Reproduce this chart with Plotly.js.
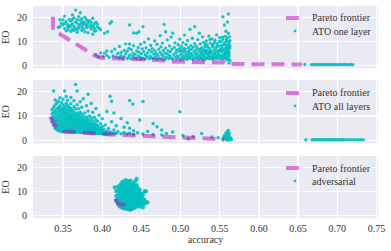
<!DOCTYPE html>
<html><head><meta charset="utf-8">
<script src="https://cdn.plot.ly/plotly-3.0.1.min.js"></script>
<style>html,body{margin:0;padding:0;background:#fff}#chart{width:391px;height:251px}</style>
</head><body><div id="chart"></div>
<script>
// ---------- DATA (accuracy, EO) ----------
// Panel 1: ATO one layer  -> columns of [accuracy, [EO values]]
const atoOneLayer = [
 [0.344,[15.8]],[0.346,[16.2,19.0]],[0.348,[17.5]],[0.350,[16.8,18.9]],[0.352,[20.5,15.3,17.4]],
 [0.354,[18.2,14.4]],[0.356,[14.8,17.0,16.0]],[0.358,[19.1,15.9,16.3]],[0.360,[16.5,18.4,14.2]],
 [0.362,[21.0,17.3,15.0,19.2]],[0.364,[19.8,16.2,14.6]],[0.366,[23.0,18.0,15.5]],[0.368,[14.9,17.6,13.8,19.0]],
 [0.370,[20.3,16.4,15.5]],[0.372,[21.9,18.8,17.1]],[0.374,[14.6,19.4,17.8,16.0]],[0.376,[16.9,15.2,18.1]],
 [0.378,[17.7,14.0,20.0]],[0.380,[16.6,19.0,15.8]],[0.382,[17.4,13.6,18.3]],[0.384,[16.0,18.6]],
 [0.386,[15.1,16.7,17.9]],[0.388,[19.6,13.0,16.3]],[0.390,[17.2,15.5,14.3]],[0.392,[14.4,18.0,4.5]],
 [0.394,[17.2,16.0]],[0.395,[3.5]],[0.396,[15.5]],[0.398,[14.8,5.2]],[0.401,[3.8]],[0.403,[13.4,5.1]],
 [0.406,[4.2,6.0]],[0.407,[14.0]],[0.409,[3.3]],[0.410,[17.5]],[0.412,[18.2,5.8]],[0.414,[4.0]],
 [0.416,[6.8]],[0.418,[3.6]],[0.420,[5.0]],[0.422,[3.2,7.9]],[0.424,[4.1,5.4]],[0.426,[2.8]],
 [0.428,[3.7,6.2]],[0.430,[4.8,9.0]],[0.432,[2.9,5.9]],[0.434,[3.4,7.1]],[0.435,[4.3,8.9,16.8]],
 [0.437,[2.7,6.6]],[0.439,[3.9,5.1]],[0.440,[8.2,13.5]],[0.442,[3.1,4.6]],[0.444,[2.9,6.0,13.4]],
 [0.446,[4.0,7.4]],[0.447,[5.5,14.0]],[0.449,[2.6,3.3,8.8]],[0.450,[4.9]],[0.451,[6.9]],[0.452,[3.0,16.1]],
 [0.453,[5.7]],[0.454,[9.6]],[0.455,[2.7,4.4]],[0.456,[7.3]],[0.457,[3.6]],[0.458,[5.2]],[0.459,[11.0]],
 [0.460,[2.8,6.4]],[0.461,[4.0]],[0.462,[8.3]],[0.463,[3.2,5.6]],[0.464,[7.0]],[0.465,[2.9]],[0.466,[4.7]],
 [0.467,[6.1,10.2]],[0.468,[3.5]],[0.469,[5.0]],[0.470,[2.6,8.8]],[0.471,[4.2]],[0.472,[6.7]],[0.473,[3.1]],
 [0.474,[5.4,12.4]],[0.475,[7.7]],[0.476,[2.7,4.5]],[0.477,[9.3]],[0.478,[3.8,6.2]],[0.479,[17.1]],
 [0.480,[2.5,5.1]],[0.481,[7.2,14.0]],[0.482,[3.4]],[0.483,[4.8,10.6]],[0.484,[6.0]],[0.485,[2.9]],
 [0.486,[4.1,8.1]],[0.487,[5.7]],[0.488,[3.2,11.8]],[0.489,[6.8]],[0.490,[2.6,13.4]],[0.491,[4.6]],
 [0.492,[7.5]],[0.493,[3.6,9.4]],[0.494,[5.3]],[0.495,[2.8,6.5]],[0.496,[4.0]],[0.497,[8.6]],
 [0.498,[3.1,5.9]],[0.499,[7.0,10.9]],[0.500,[2.4,4.4]],[0.501,[6.2,8.0]],[0.502,[3.3,5.3]],
 [0.503,[2.7,9.5]],[0.504,[4.1,7.1]],[0.505,[5.9,12.6]],[0.506,[3.0,6.8]],[0.507,[4.8,8.7]],
 [0.508,[2.5,3.9]],[0.509,[5.5,10.4]],[0.510,[3.4,7.4]],[0.511,[4.5,6.1]],[0.512,[2.8,15.0]],
 [0.513,[5.0,8.2]],[0.514,[3.7,6.7]],[0.515,[4.3,11.3]],[0.516,[2.5,7.6]],[0.517,[3.2,5.6]],
 [0.518,[9.1,16.1]],[0.519,[4.7,6.4]],[0.520,[2.9,8.0]],[0.521,[3.8,5.2]],[0.522,[7.0,10.7]],
 [0.523,[2.6,4.1]],[0.524,[6.0,13.4]],[0.525,[3.4,8.9]],[0.5255,[3.0,6.9]],[0.526,[4.4,5.0]],
 [0.527,[2.8,7.3]],[0.528,[5.8,11.9]],[0.5285,[4.9,2.3]],[0.529,[3.7,9.6]],[0.530,[4.2,6.6]],
 [0.531,[2.5,7.9]],[0.5315,[6.0,9.0]],[0.532,[3.1,5.3]],[0.533,[6.2,10.2]],[0.534,[4.6,8.5]],
 [0.5345,[3.2,7.6]],[0.535,[2.9,5.7]],[0.536,[3.8,12.2]],[0.537,[4.9,7.1]],[0.5375,[5.9,10.8]],
 [0.538,[2.7,9.3]],[0.539,[3.5,6.0]],[0.540,[5.1,11.0]],[0.5405,[2.9,8.3]],[0.541,[4.0,7.7]],
 [0.542,[2.6,8.8]],[0.543,[3.3,6.4]],[0.5435,[4.8,9.6]],[0.544,[5.4,10.5]],[0.545,[4.3,7.4]],
 [0.546,[2.9,12.7]],[0.5465,[3.5,7.8]],[0.547,[6.1,9.0]],[0.548,[3.7,5.0]],[0.549,[4.5,8.1]],
 [0.5495,[6.1,10.0]],[0.550,[2.7,11.5]],[0.551,[3.9,6.8]],[0.552,[5.6,9.8]],[0.5525,[3.0,8.3]],
 [0.553,[4.1,7.5]],[0.5535,[6.4,11.8]],[0.554,[2.6,10.8,20.2]],[0.555,[3.3,6.3]],[0.5555,[4.6,9.3]],
 [0.556,[5.0,8.6,16.8]],[0.557,[4.0,7.0,12.1]],[0.5575,[5.4,3.3]],[0.558,[2.8,9.7,14.2]],
 [0.5585,[7.4,10.6]],[0.559,[3.6,5.9,11.4]],[0.5595,[2.4,8.4]],[0.560,[4.7,7.8,18.0]],
 [0.5605,[6.0,3.0]],[0.561,[2.6,6.5,13.3,21.4]],[0.5615,[4.4,9.9]],[0.562,[3.9,5.3,9.0,1.0]],
 [0.5625,[7.1,11.9]],[0.563,[2.1,8.0,10.3]],
 [0.6585,[0.4]],[0.667,[0.3]],[0.6695,[0.4]],[0.672,[0.3]],[0.6745,[0.4]],[0.677,[0.3]],[0.6795,[0.4]],
 [0.682,[0.3]],[0.6845,[0.4]],[0.687,[0.3]],[0.6895,[0.3]],[0.692,[0.4]],[0.6945,[0.3]],[0.697,[0.4]],
 [0.6995,[0.3]],[0.702,[0.3]],[0.7045,[0.4]],[0.707,[0.3]],[0.7095,[0.4]],[0.712,[0.3]],[0.7145,[0.3]],
 [0.717,[0.4]],[0.720,[0.3]]
];
const paretoOneX = [0.3372,0.3372,0.345,0.360,0.375,0.390,0.399,0.420,0.450,0.460,0.473,0.482,0.500,0.530,0.556,0.5585,0.600,0.655];
const paretoOneY = [20.2,14.7,13.3,10.3,7.2,4.2,3.1,2.9,2.8,2.4,2.3,1.7,1.5,1.3,1.2,0.6,0.5,0.4];

// Panel 2: ATO all layers
const atoAllLayers = [
 [0.336,[7.5,9.0,10.8,12.5]],[0.338,[6.2,8.1,9.6,11.4,13.6,20.2]],[0.340,[5.0,7.0,8.6,10.2,12.0,14.5,16.5]],
 [0.342,[4.5,6.0,7.7,9.2,11.0,12.8,15.2]],[0.344,[4.1,5.4,6.9,8.3,9.9,11.7,13.5,16.0]],
 [0.346,[3.9,5.1,6.5,7.9,9.4,10.8,12.4,14.2,17.4]],[0.348,[3.7,4.8,6.2,7.4,8.8,10.3,11.9,13.2,15.5]],
 [0.350,[3.8,5.0,6.0,7.2,8.5,9.8,11.3,12.8,14.6,16.8]],[0.352,[3.6,4.6,5.8,7.0,8.2,9.5,10.9,12.3,13.9,20.2]],
 [0.354,[3.5,4.4,5.5,6.7,8.0,9.3,10.6,11.8,13.3,15.2,18.0]],[0.356,[3.6,4.7,5.9,7.1,8.4,9.7,11.1,12.6,14.4,16.4]],
 [0.358,[3.5,4.5,5.6,6.8,8.0,9.2,10.4,11.9,13.5]],[0.360,[3.4,4.3,5.3,6.5,7.7,8.9,10.2,11.6,13.0,15.0,17.5]],
 [0.362,[3.5,4.6,5.7,6.9,8.1,9.4,10.8,12.3]],[0.364,[3.4,4.2,5.2,6.3,7.5,8.7,10.0,11.4,13.8,16.2]],
 [0.366,[3.3,4.4,5.5,6.6,7.9,9.1,10.5,12.8,22.9]],[0.368,[3.4,4.1,5.0,6.1,7.3,8.5,9.8,11.2,14.6,20.2]],
 [0.370,[3.3,4.3,5.4,6.5,7.7,9.0,10.6,12.9]],[0.372,[3.2,4.0,4.9,6.0,7.1,8.3,9.7,11.5,15.8]],
 [0.374,[3.3,4.2,5.2,6.4,7.6,9.0,10.8,13.6]],[0.376,[3.2,3.9,4.8,5.8,6.9,8.2,9.9,17.0]],
 [0.378,[3.1,4.1,5.1,6.2,7.4,8.8,11.2]],[0.380,[3.2,3.8,4.6,5.6,6.7,8.0,9.6,14.2]],
 [0.382,[3.0,4.0,5.0,6.0,7.2,8.6,12.0,18.9]],[0.384,[3.1,3.7,4.5,5.5,6.6,7.9,10.0]],
 [0.386,[3.0,3.9,4.9,5.9,7.0,9.2,15.1]],[0.388,[3.0,3.6,4.4,5.3,6.4,8.0,11.5]],
 [0.390,[2.9,3.8,4.7,5.7,7.0,9.5]],[0.392,[2.9,3.5,4.3,5.2,6.5,8.4,13.0]],[0.394,[2.8,3.7,4.6,6.0,7.8]],
 [0.396,[2.8,3.4,4.2,5.4,10.3]],[0.398,[2.8,3.6,4.8,6.8]],[0.400,[2.7,3.3,4.1,5.7,8.9]],
 [0.402,[2.7,3.5,4.6]],[0.404,[2.7,3.2,6.3]],[0.406,[2.6,3.8,11.8]],[0.408,[2.8,4.9]],
 [0.410,[2.6,3.4,18.1]],[0.412,[3.0,7.6,16.0]],[0.415,[2.8,4.3,11.2]],[0.418,[2.9,6.0]],[0.420,[3.6]],
 [0.424,[2.7,9.0]],[0.428,[3.2,5.4]],[0.432,[2.6,7.2]],[0.435,[16.3,5.0,3.0]],[0.439,[14.9]],
 [0.440,[2.5,4.0]],[0.445,[3.1]],[0.448,[8.4]],[0.452,[15.9,2.6]],[0.458,[3.7]],[0.465,[6.9,2.4]],
 [0.470,[5.6]],[0.476,[2.2,4.3]],[0.482,[2.8]],[0.490,[3.4]],[0.499,[11.7]],[0.503,[2.0]],[0.510,[0.6]],
 [0.516,[1.6]],[0.527,[2.8]],[0.540,[1.4]],[0.548,[1.1]],
 [0.554,[0.5]],[0.555,[1.2]],[0.556,[2.0]],[0.557,[0.8]],[0.558,[1.6,3.0]],[0.559,[0.4,2.4]],
 [0.560,[1.1,3.6,0.2]],[0.561,[4.1,0.6,1.9]],[0.562,[2.8,0.3]],[0.563,[1.4,0.5]],[0.564,[0.8]],[0.565,[0.4]],
 [0.660,[0.3]],[0.668,[0.3]],[0.6705,[0.3]],[0.673,[0.3]],[0.6755,[0.3]],[0.678,[0.3]],[0.6805,[0.3]],
 [0.683,[0.3]],[0.6855,[0.3]],[0.688,[0.3]],[0.6905,[0.3]],[0.693,[0.3]],[0.6955,[0.3]],[0.698,[0.3]],
 [0.7005,[0.3]],[0.703,[0.3]],[0.7055,[0.3]],[0.708,[0.3]],[0.7115,[0.3]],[0.715,[0.3]],[0.7185,[0.3]],
 [0.722,[0.3]],[0.726,[0.3]],[0.7295,[0.3]],[0.733,[0.3]]
];
const paretoAllX = [0.3335,0.336,0.340,0.345,0.350,0.365,0.380,0.400,0.420,0.440,0.460,0.480,0.500,0.520,0.540,0.556];
const paretoAllY = [9.8,8.0,6.0,4.5,3.7,3.4,2.9,2.6,2.3,2.1,1.9,1.6,1.4,1.0,0.7,0.3];

// Panel 3: adversarial
const adversarial = [
 [0.416,[11.6]],[0.418,[6.0,8.0,10.0]],[0.420,[4.6,6.5,8.3,10.1,11.8]],[0.422,[3.8,5.5,7.2,8.9,10.6,12.2]],
 [0.424,[3.4,5.0,6.6,8.2,9.8,11.4,13.0]],[0.426,[3.0,4.6,6.2,7.8,9.4,11.0,12.6,14.0]],
 [0.428,[2.8,4.3,5.8,7.4,9.0,10.6,12.2,13.6]],[0.430,[2.7,4.1,5.6,7.1,8.6,10.1,11.7,13.2,14.6]],
 [0.432,[2.6,4.0,5.5,7.0,8.5,10.0,11.5,13.0,14.2]],[0.434,[2.4,3.9,5.4,6.9,8.4,9.9,11.4,12.9,14.0]],
 [0.436,[2.3,3.8,5.3,6.8,8.3,9.8,11.3,12.8,14.4]],[0.438,[2.6,4.0,5.5,7.0,8.5,10.0,11.5,13.0]],
 [0.440,[2.9,4.2,5.7,7.2,8.7,10.2,11.7,13.3]],[0.442,[3.2,4.5,6.0,7.5,9.0,10.5,12.0,14.2]],
 [0.444,[3.6,4.9,6.3,7.8,9.3,10.8,12.4,15.1]],[0.446,[4.0,5.3,6.7,8.2,9.7,11.2]],
 [0.448,[3.5,4.8,6.2,7.7,9.2,10.6]],[0.450,[4.4,5.9,7.4,8.9]],[0.452,[3.2,5.0,6.8,8.5]],
 [0.454,[4.6,6.4,9.9]],[0.456,[5.3,9.9]],[0.458,[5.3]]
];
const paretoAdvX = [0.4165,0.418,0.420,0.4224,0.428,0.432,0.435,0.4365];
const paretoAdvY = [7.0,6.2,5.0,4.6,4.3,3.2,2.3,2.0];

const xTicks = [0.35,0.40,0.45,0.50,0.55,0.60,0.65,0.70,0.75];
const xTickText = ['0.35','0.40','0.45','0.50','0.55','0.60','0.65','0.70','0.75'];
const yTicks = [0,10,20];
const seriesNames = ['ATO one layer','ATO all layers','adversarial'];
const paretoName = 'Pareto frontier';

// ---------- BUILD ----------
function flat(cols){const xs=[],ys=[];cols.forEach(([x,a])=>a.forEach(y=>{xs.push(x);ys.push(y);}));return {xs,ys};}
const FONT = 'Liberation Serif, Times New Roman, serif';
const TXT = '#333';
const CYAN = 'rgba(0,191,191,0.9)';
const MAG = 'rgba(191,0,191,0.5)';
const W = 391, H = 251, M = {l:33, r:13, t:6, b:33};
const PW = W - M.l - M.r, PH = H - M.t - M.b;
const px2x = p => (p - M.l) / PW;          // pixel -> paper (layout positioning only)
const py2y = p => (H - M.b - p) / PH;
const panels = [
 {cols: atoOneLayer, px: paretoOneX, py: paretoOneY, name: seriesNames[0], size:3.3},
 {cols: atoAllLayers, px: paretoAllX, py: paretoAllY, name: seriesNames[1], size:3.5},
 {cols: adversarial, px: paretoAdvX, py: paretoAdvY, name: seriesNames[2], size:4.2}
];
const traces = [];
panels.forEach((p,i)=>{
 const ax = i===0?'':String(i+1);
 const d = flat(p.cols);
 traces.push({type:'scatter',mode:'markers',x:d.xs,y:d.ys,xaxis:'x'+ax,yaxis:'y'+ax,name:p.name,showlegend:false,
   marker:{color:CYAN,size:p.size,line:{width:0}},hoverinfo:'skip'});
 traces.push({type:'scatter',mode:'lines',x:p.px,y:p.py,xaxis:'x'+ax,yaxis:'y'+ax,name:paretoName,showlegend:false,
   line:{color:MAG,width:4,dash:'13px,7px'},hoverinfo:'skip'});
});
const domains = [[0.706,1],[0.352,0.651],[0,0.2925]];
const legendTopPx = [18, 93, 168];   // pixel row of the first legend entry in each panel
const layout = {
 width:W,height:H,margin:M,paper_bgcolor:'#fff',plot_bgcolor:'#EAEAF2',
 font:{family:FONT,size:10,color:TXT},showlegend:false,shapes:[],annotations:[]
};
domains.forEach((dm,i)=>{
 const ax = i===0?'':String(i+1);
 const bottom = i===2;
 layout['xaxis'+ax] = {domain:[0,1],anchor:'y'+ax,range:[0.3117,0.752],tickvals:xTicks,ticktext:xTickText,
   showticklabels:bottom,showgrid:true,gridcolor:'#fff',gridwidth:1.2,zeroline:false,showline:false,ticks:'',
   ticklabelstandoff:3,tickfont:{family:FONT,size:10,color:TXT},
   title: bottom?{text:'accuracy',font:{family:FONT,size:10,color:TXT},standoff:2}:undefined};
 layout['yaxis'+ax] = {domain:dm,anchor:'x'+ax,range:[-1.2,24.7],tickvals:yTicks,showgrid:true,gridcolor:'#fff',
   gridwidth:1.2,zeroline:false,showline:false,ticks:'',ticklabelstandoff:5,tickfont:{family:FONT,size:10,color:TXT},
   title:{text:'EO',font:{family:FONT,size:10,color:TXT},standoff:8}};
 // legend (drawn in paper space)
 const r1 = legendTopPx[i], r2 = r1 + 13;
 layout.shapes.push({type:'line',xref:'paper',yref:'paper',x0:px2x(286),x1:px2x(299),y0:py2y(r1),y1:py2y(r1),
   line:{color:MAG,width:4},layer:'above'});
 layout.shapes.push({type:'circle',xref:'paper',yref:'paper',x0:px2x(293.6),x1:px2x(296.4),y0:py2y(r2+1.4),y1:py2y(r2-1.4),
   fillcolor:CYAN,line:{width:0},layer:'above'});
 layout.annotations.push({xref:'paper',yref:'paper',x:px2x(310),y:py2y(r1),xanchor:'left',yanchor:'middle',
   text:paretoName,showarrow:false,font:{family:FONT,size:10,color:TXT}});
 layout.annotations.push({xref:'paper',yref:'paper',x:px2x(310),y:py2y(r2),xanchor:'left',yanchor:'middle',
   text:panels[i].name,showarrow:false,font:{family:FONT,size:10,color:TXT}});
});
Plotly.newPlot('chart',traces,layout,{staticPlot:true,displayModeBar:false});
</script>
</body></html>
